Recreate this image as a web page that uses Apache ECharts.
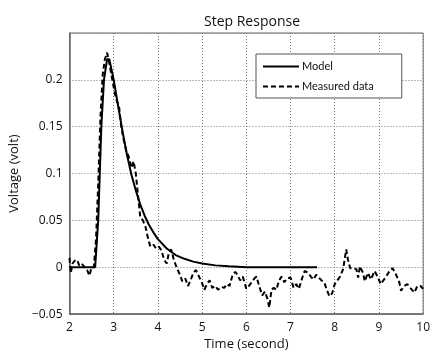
<!DOCTYPE html>
<html>
<head>
<meta charset="utf-8">
<script src="https://cdn.jsdelivr.net/npm/echarts@6/dist/echarts.min.js"></script>
<style>
  html, body { margin: 0; padding: 0; background: #fff; }
  #chart { width: 433px; height: 356px; }
</style>
</head>
<body>
<div id="chart"></div>
<script>
// model step response [time, volt]
const model = [
  [2.00, 0], [2.58, 0], [2.65, 0.05], [2.72, 0.15], [2.78, 0.20], [2.85, 0.222], [2.90, 0.222],
  [3.00, 0.200], [3.10, 0.172], [3.20, 0.145], [3.30, 0.120], [3.40, 0.099], [3.50, 0.082],
  [3.60, 0.067], [3.70, 0.055], [3.80, 0.045], [3.90, 0.037], [4.00, 0.030], [4.20, 0.020],
  [4.40, 0.013], [4.60, 0.009], [4.80, 0.006], [5.00, 0.004], [5.30, 0.002], [5.60, 0.001],
  [6.00, 0], [7.60, 0]
]

// measured data [time, volt]
const measured = [
  [2.00, 0.010], [2.03, -0.006], [2.07, 0.004], [2.12, 0.007], [2.17, 0.008], [2.22, 0.002],
  [2.27, 0.004], [2.33, 0.001], [2.40, -0.003], [2.45, -0.009], [2.50, 0.000], [2.55, 0.000],
  [2.60, 0.030], [2.65, 0.090], [2.70, 0.160], [2.75, 0.205], [2.80, 0.222], [2.85, 0.229],
  [2.90, 0.218], [2.95, 0.205], [3.00, 0.192], [3.05, 0.180], [3.12, 0.172], [3.17, 0.150],
  [3.23, 0.135], [3.28, 0.125], [3.34, 0.118], [3.40, 0.106], [3.45, 0.113], [3.50, 0.100],
  [3.56, 0.072], [3.60, 0.054], [3.66, 0.050], [3.72, 0.043], [3.78, 0.030], [3.83, 0.022],
  [3.90, 0.024], [3.96, 0.020], [4.02, 0.022], [4.08, 0.018], [4.14, 0.008], [4.20, 0.004],
  [4.25, 0.016], [4.30, 0.019], [4.36, 0.008], [4.43, -0.001], [4.50, -0.008], [4.55, -0.015],
  [4.62, -0.012], [4.68, -0.020], [4.74, -0.014], [4.80, -0.006], [4.86, -0.003], [4.93, -0.010],
  [5.00, -0.017], [5.05, -0.024], [5.11, -0.018], [5.17, -0.014], [5.23, -0.022], [5.30, -0.020],
  [5.36, -0.024], [5.43, -0.021], [5.50, -0.022], [5.56, -0.018], [5.62, -0.020], [5.69, -0.008],
  [5.75, -0.005], [5.80, -0.008], [5.86, -0.014], [5.92, -0.010], [6.00, -0.023], [6.06, -0.020],
  [6.12, -0.016], [6.18, -0.012], [6.23, -0.010], [6.29, -0.020], [6.36, -0.030], [6.42, -0.026],
  [6.48, -0.034], [6.52, -0.043], [6.57, -0.024], [6.62, -0.022], [6.68, -0.024], [6.74, -0.014],
  [6.80, -0.010], [6.86, -0.016], [6.92, -0.012], [7.00, -0.011], [7.07, -0.022], [7.13, -0.018],
  [7.19, -0.023], [7.26, -0.012], [7.32, -0.004], [7.40, -0.006], [7.46, -0.010], [7.52, -0.013],
  [7.58, -0.008], [7.64, -0.011], [7.70, -0.014], [7.76, -0.016], [7.82, -0.024], [7.88, -0.031],
  [7.94, -0.028], [8.00, -0.018], [8.06, -0.014], [8.12, -0.010], [8.19, -0.002], [8.26, 0.019],
  [8.30, 0.008], [8.35, -0.001], [8.42, -0.001], [8.49, -0.002], [8.53, -0.011], [8.57, 0.001],
  [8.64, -0.006], [8.68, -0.015], [8.75, -0.006], [8.82, -0.013], [8.90, -0.004], [8.97, -0.010],
  [9.04, -0.018], [9.10, -0.014], [9.15, -0.011], [9.24, -0.004], [9.31, -0.001], [9.38, -0.007],
  [9.46, -0.016], [9.50, -0.025], [9.57, -0.020], [9.64, -0.018], [9.71, -0.022], [9.80, -0.027],
  [9.87, -0.020], [9.94, -0.020], [10.00, -0.023]
]

const xTicks = [2, 3, 4, 5, 6, 7, 8, 9, 10]
const yTicks = [-0.05, 0, 0.05, 0.1, 0.15, 0.2]

const font = 'Open Sans'
const myChart = echarts.init(document.getElementById('chart'), null, { renderer: 'canvas' })

const option = {
    backgroundColor: '#fff',
    animation: false,
    title: {
        text: 'Step Response',
        left: 247,
        top: 10,
        textAlign: 'center',
        textStyle: { fontFamily: font, fontSize: 14, fontWeight: 'normal', color: '#111' }
    },
    legend: {
        left: 256,
        top: 54,
        orient: 'vertical',
        padding: [7, 28, 6, 6],
        itemGap: 9,
        itemWidth: 36,
        itemHeight: 8,
        borderColor: '#555',
        borderWidth: 1,
        backgroundColor: '#fff',
        itemStyle: { opacity: 0 },
        textStyle: { fontFamily: 'Lato', fontSize: 11, color: '#111', padding: [0, 0, 0, -2] },
        data: ['Model', 'Measured data']
    },
    grid: {
        left: 68,
        right: 7,
        top: 33,
        bottom: 38,
        show: true,
        borderColor: '#666',
        borderWidth: 1
    },
    xAxis: {
        type: 'value',
        min: xTicks[0],
        max: xTicks[xTicks.length - 1],
        interval: 1,
        name: 'Time (second)',
        nameLocation: 'middle',
        nameGap: 21,
        nameTextStyle: { fontFamily: font, fontSize: 13, color: '#111' },
        axisLine: { show: true, onZero: false, lineStyle: { color: '#666', width: 1.5 } },
        axisTick: { show: false },
        axisLabel: { fontFamily: font, fontSize: 12, color: '#111', margin: 7 },
        splitLine: { show: true, lineStyle: { color: '#777', type: [1, 2], width: 1 } }
    },
    yAxis: {
        type: 'value',
        min: -0.05,
        max: 0.25,
        interval: 0.05,
        name: 'Voltage (volt)',
        nameLocation: 'middle',
        nameGap: 44,
        nameTextStyle: { fontFamily: font, fontSize: 13, color: '#111' },
        axisLine: { show: true, onZero: false, lineStyle: { color: '#666', width: 1.5 } },
        axisTick: { show: false },
        axisLabel: {
            fontFamily: font, fontSize: 12, color: '#111', margin: 7,
            formatter: v => {
                const hit = yTicks.find(t => Math.abs(t - v) < 1e-9)
                if (hit === undefined) return ''
                return String(hit).replace('-', '\u2212')
            }
        },
        splitLine: { show: true, lineStyle: { color: '#777', type: [1, 2], width: 1 } }
    },
    series: [
        {
            name: 'Model',
            type: 'line',
            data: model,
            symbol: 'none',
            z: 3,
            lineStyle: { color: '#000', width: 2 },
            itemStyle: { color: '#000' }
        },
        {
            name: 'Measured data',
            type: 'line',
            data: measured,
            symbol: 'none',
            z: 4,
            lineStyle: { color: '#000', width: 2, type: [5, 3] },
            itemStyle: { color: '#000' }
        }
    ]
}

myChart.setOption(option)
</script>
</body>
</html>
